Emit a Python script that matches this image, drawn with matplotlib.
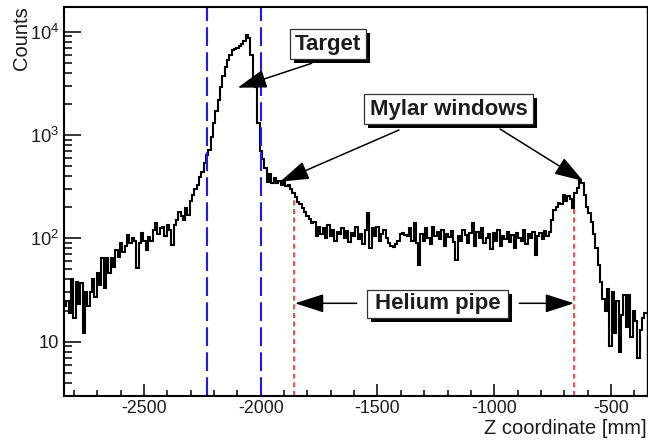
import numpy as np
import matplotlib
matplotlib.use("Agg")
import matplotlib.pyplot as plt
from matplotlib.patches import Rectangle, FancyArrowPatch

# ---------------- data ----------------
z_range = (-2842.0, -348.0)          # histogram range [mm]
n_bins = 250

left_tail = [22, 25, 19, 40, 17, 38, 23, 37, 12, 30,
             22, 30, 40, 27, 46, 35, 64, 33, 64, 46,
             64, 53, 77, 66, 90, 74, 84, 108, 90, 100,
             95, 52, 90, 113, 95, 77, 103, 95, 120, 140,
             110, 125, 130, 105, 135, 120, 86, 135, 150, 180]
target_peak = [165, 150, 195, 170, 230, 260, 300, 330, 390, 440,
               540, 640, 720, 950, 1300, 1700, 2200, 2900, 3700, 4600,
               5300, 5900, 6600, 6800, 6900, 7200, 7600, 8200, 9300, 8700,
               5900, 3600, 2900, 1300]
first_window = [700, 580, 480, 350, 420, 340, 380, 345, 360, 330,
                350, 320, 330, 300, 275, 250, 225, 215, 195, 180,
                165, 155, 140, 145, 105]
plateau = [130, 110, 125, 100, 135, 105, 120, 95, 115, 110, 125,
           100, 118, 92, 112, 105, 128, 98, 110, 88, 120,
           175, 80, 125, 105, 130, 95, 110, 120, 100, 90,
           85, 82, 88, 95, 110, 112, 108, 105, 125, 95,
           140, 90, 55, 110, 95, 125, 100, 88, 130, 105,
           115, 98, 120, 85, 110, 102, 118, 92, 62, 105,
           95, 120, 108, 90, 112, 140, 85, 115, 100, 125,
           90, 100, 110, 78, 112, 95, 120, 85, 105, 98,
           115, 92, 108, 80, 112, 100, 95, 120, 88, 110,
           100, 115, 69, 105, 112, 98, 118, 105, 115]
second_window = [150, 190, 200, 220, 215, 260, 230, 255, 240, 195,
                 275, 310, 365, 340, 260, 200, 175, 145, 110, 80,
                 55, 38, 26, 20, 32, 9, 30, 12, 25, 8,
                 18, 28, 14, 28, 11, 20, 16, 7, 13, 17, 19]

target_lines = [-2230, -2000]            # blue dashed
helium_lines = [-1856, -658]             # red dotted
helium_tops = [245, 195]

ytick_vals = [10, 100, 1000, 10000]
ytick_labels = ['10', r'$10^{2}$', r'$10^{3}$', r'$10^{4}$']
xtick_vals = [-2500, -2000, -1500, -1000, -500]
xtick_labels = ['-2500', '-2000', '-1500', '-1000', '-500']

counts = np.array(left_tail + target_peak + first_window + plateau + second_window, dtype=float)
edges = np.linspace(z_range[0], z_range[1], n_bins + 1)

# ---------------- style ----------------
plt.rcParams['font.family'] = ['Liberation Sans', 'DejaVu Sans']
plt.rcParams['mathtext.fontset'] = 'custom'
plt.rcParams['mathtext.rm'] = 'Liberation Sans'
plt.rcParams['mathtext.it'] = 'Liberation Sans:italic'
plt.rcParams['mathtext.bf'] = 'Liberation Sans:bold'
plt.rcParams['axes.unicode_minus'] = False

W, H = 648, 442
fig = plt.figure(figsize=(W / 100, H / 100), dpi=100)
L, R, T, B = 64.0, 646.5, 6.7, 395.7
ax = fig.add_axes([L / W, 1 - B / H, (R - L) / W, (B - T) / H])

def pf(x, y):
    """pixel -> axes fraction"""
    return ((x - L) / (R - L), (B - y) / (B - T))

ax.set_yscale('log')
ax.set_xlim(z_range)
ax.set_ylim(3.0, 1.745e4)

ax.stairs(counts, edges, baseline=None, color='black', linewidth=1.5)

for zl in target_lines:
    ax.axvline(zl, color='#1a1aff', linewidth=1.5, dashes=(9, 3))
ax.vlines(helium_lines, 3.0, helium_tops, color='#ff2a2a', linewidth=1.2,
          linestyles=(0, (3, 2.2)))

# ticks
ax.set_xticks(xtick_vals)
ax.set_xticklabels(xtick_labels)
ax.set_xticks(np.arange(-2800, -349, 100), minor=True)
ax.set_yticks(ytick_vals)
ax.set_yticklabels(ytick_labels)
ax.tick_params(axis='both', which='both', direction='in', top=False, right=False,
               colors='black', labelcolor='#1c1c1c', width=1.1)
ax.tick_params(axis='x', which='major', length=9, labelsize=12.8, pad=2.8)
ax.tick_params(axis='x', which='minor', length=4.2)
ax.tick_params(axis='y', which='major', length=12.2, labelsize=13.2, pad=3.3)
ax.tick_params(axis='y', which='minor', length=6.1)
for s in ax.spines.values():
    s.set_linewidth(1.5)
ax.spines['right'].set_linewidth(1.0)

ax.set_xlabel('Z coordinate [mm]', fontsize=14.5, color='#1c1c1c', ha='right',
              va='baseline')
ax.xaxis.set_label_coords(1.0, pf(0, 433.5)[1])
ax.set_ylabel('Counts', fontsize=14.5, color='#1c1c1c', ha='right')
ax.yaxis.set_label_coords(-0.057, 1.0)

# annotation boxes
def box(x0, y0, x1, y1, text):
    (ax0, ay1), (ax1, ay0) = pf(x0, y0), pf(x1, y1)
    sx, sy = 4 / (R - L), 4 / (B - T)
    ax.add_patch(Rectangle((ax0 + sx, ay0 - sy), ax1 - ax0, ay1 - ay0,
                           transform=ax.transAxes, facecolor='black',
                           edgecolor='black', linewidth=0, zorder=5, clip_on=False))
    ax.add_patch(Rectangle((ax0, ay0), ax1 - ax0, ay1 - ay0,
                           transform=ax.transAxes, facecolor='white',
                           edgecolor='#333333', linewidth=0.9, zorder=6, clip_on=False))
    ax.text((ax0 + ax1) / 2, (ay0 + ay1) / 2, text, transform=ax.transAxes,
            ha='center', va='center', fontsize=16, fontweight='bold',
            color='#1c1c1c', zorder=7)

box(290, 29.3, 366, 59.3, 'Target')
box(364, 94.3, 533, 124, 'Mylar windows')
box(366.7, 290, 508, 317.5, 'Helium pipe')

def arrow(x0, y0, x1, y1):
    a = FancyArrowPatch(pf(x0, y0), pf(x1, y1), transform=ax.transAxes,
                        arrowstyle='-|>,head_length=18,head_width=5.8',
                        mutation_scale=1, shrinkA=0, shrinkB=0,
                        color='black', linewidth=1.1, zorder=8, clip_on=False)
    ax.add_patch(a)

arrow(311.7, 63.3, 237.7, 87.7)
arrow(399, 130, 280, 181.7)
arrow(500, 129, 583.3, 181)
arrow(356.7, 303.3, 295, 303.3)
arrow(519.3, 303.3, 574, 303.3)

fig.savefig('out.png', dpi=100)
